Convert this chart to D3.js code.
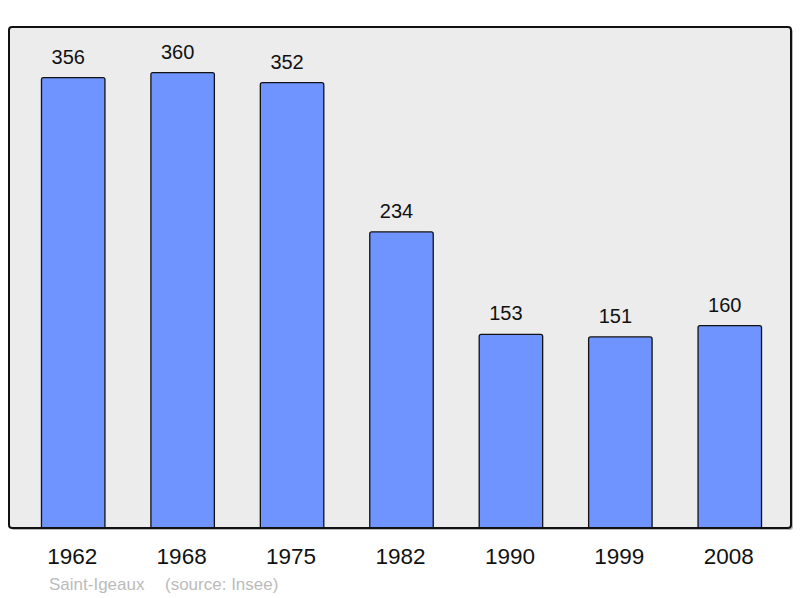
<!DOCTYPE html>
<html>
<head>
<meta charset="utf-8">
<script src="https://cdn.jsdelivr.net/npm/d3@7"></script>
<style>
  body { margin: 0; background: #fff; }
  text { font-family: "Liberation Sans", Arial, sans-serif; }
</style>
</head>
<body>
<div class="chart"></div>
<script>
// population by census year
var years = ["1962", "1968", "1975", "1982", "1990", "1999", "2008"];
var population = [356, 360, 352, 234, 153, 151, 160];
var commune = "Saint-Igeaux";
var source = "(source: Insee)";

var svgWidth = 800;
var svgHeight = 598;

var panel = { left: 9, top: 27, right: 791, bottom: 528 };

var svg = d3.select(".chart")
  .append("svg")
  .attr("width", svgWidth)
  .attr("height", svgHeight);

// background panel with a faint shadow
svg.append("rect")
  .attr("x", panel.left + 2)
  .attr("y", panel.top + 2)
  .attr("width", panel.right - panel.left)
  .attr("height", panel.bottom - panel.top)
  .attr("rx", 3)
  .attr("fill", "#bbb");

svg.append("rect")
  .attr("x", panel.left)
  .attr("y", panel.top)
  .attr("width", panel.right - panel.left)
  .attr("height", panel.bottom - panel.top)
  .attr("rx", 3)
  .attr("fill", "#ececec");

var xScale = d3.scaleBand()
  .domain(years)
  .range([18.5, 784.5])
  .paddingInner(0.42)
  .paddingOuter(0.21);

var yScale = d3.scaleLinear()
  .domain([0, d3.max(population) * 1.1])
  .range([panel.bottom, panel.top]);

var data = years.map((y, i) => ({ year: y, value: population[i] }));

// bars with slightly rounded tops
function barPath(d) {
  var x0 = xScale(d.year), x1 = x0 + xScale.bandwidth();
  var y0 = yScale(d.value), yb = panel.bottom, r = 2;
  return `M${x0},${yb} L${x0},${y0 + r} Q${x0},${y0} ${x0 + r},${y0} L${x1 - r},${y0} Q${x1},${y0} ${x1},${y0 + r} L${x1},${yb}`;
}

svg.selectAll("path.bar")
  .data(data)
  .enter()
  .append("path")
  .attr("class", "bar")
  .attr("d", barPath)
  .attr("fill", "#7094ff")
  .attr("stroke", "#111")
  .attr("stroke-width", 1.3);

svg.selectAll("text.val")
  .data(data)
  .enter()
  .append("text")
  .attr("class", "val")
  .attr("text-anchor", "middle")
  .attr("x", d => xScale(d.year) + xScale.bandwidth() / 2 - 5)
  .attr("y", d => yScale(d.value) - 14)
  .attr("font-size", 20)
  .attr("fill", "#111")
  .text(d => d.value);

// panel border on top
svg.append("rect")
  .attr("x", panel.left)
  .attr("y", panel.top)
  .attr("width", panel.right - panel.left)
  .attr("height", panel.bottom - panel.top)
  .attr("rx", 3)
  .attr("fill", "none")
  .attr("stroke", "#111")
  .attr("stroke-width", 2);

// year labels
svg.selectAll("text.year")
  .data(years)
  .enter()
  .append("text")
  .attr("class", "year")
  .attr("text-anchor", "middle")
  .attr("x", d => xScale(d) + xScale.bandwidth() / 2 - 1)
  .attr("y", 564)
  .attr("font-size", 22.5)
  .attr("fill", "#111")
  .text(d => d);

svg.append("text")
  .attr("x", 49)
  .attr("y", 590)
  .attr("font-size", 17)
  .attr("fill", "#bbb")
  .text(commune);

svg.append("text")
  .attr("x", 165)
  .attr("y", 590)
  .attr("font-size", 17)
  .attr("fill", "#bbb")
  .text(source);
</script>
</body>
</html>
